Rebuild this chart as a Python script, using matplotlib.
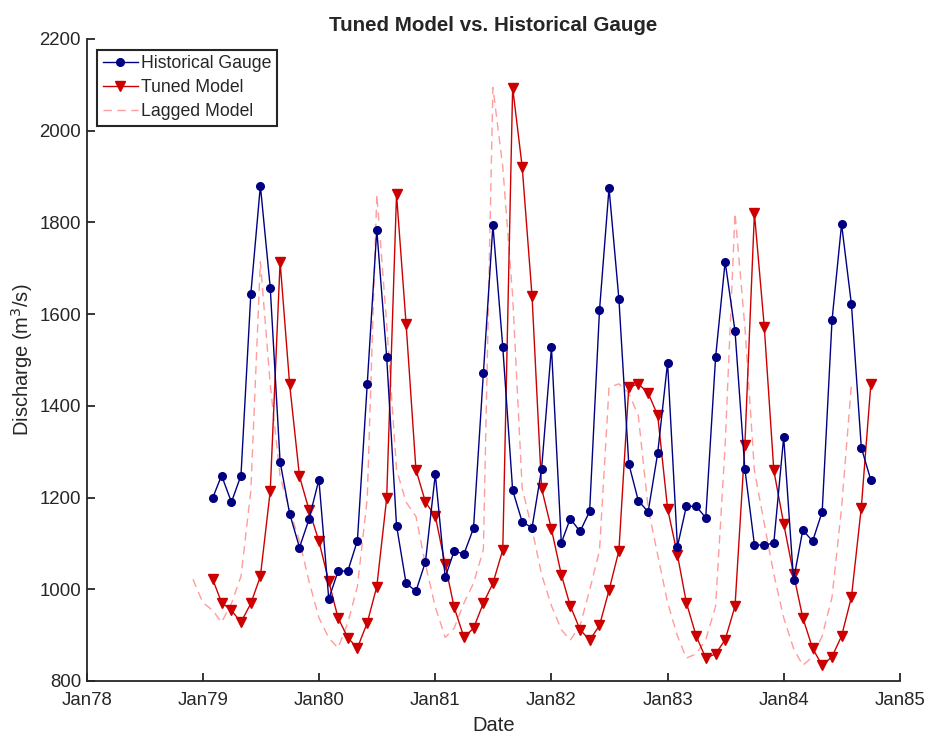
import matplotlib
matplotlib.use('Agg')
import matplotlib.pyplot as plt
import matplotlib.dates as mdates
import numpy as np
from datetime import date

# Monthly dates, Feb 1979 .. Oct 1984
def month_range(y0, m0, n):
	out = []
	y, m = y0, m0
	for i in range(n):
		out.append(date(y, m, 1))
		m += 1
		if m > 12:
			m = 1
			y += 1
	return out

gauge = [
	1199, 1248, 1190, 1248, 1644, 1880, 1658, 1278, 1165, 1091, 1153,
	1239, 979, 1039, 1040, 1106, 1448, 1784, 1507, 1139, 1013, 996, 1060,
	1251, 1026, 1083, 1077, 1133, 1471, 1794, 1528, 1216, 1147, 1134, 1262,
	1528, 1101, 1154, 1126, 1170, 1608, 1875, 1633, 1274, 1193, 1169, 1297,
	1494, 1093, 1181, 1181, 1156, 1506, 1714, 1563, 1262, 1097, 1096, 1101,
	1332, 1020, 1129, 1105, 1169, 1587, 1796, 1621, 1309, 1238,
]

tuned = [
	1022, 971, 954, 928, 969, 1028, 1214, 1714, 1447, 1246, 1173,
	1105, 1017, 938, 894, 872, 927, 1006, 1198, 1861, 1579, 1261, 1190,
	1159, 1054, 961, 895, 915, 970, 1013, 1086, 2094, 1921, 1639, 1220,
	1131, 1032, 964, 912, 889, 921, 998, 1084, 1440, 1448, 1428, 1379,
	1176, 1075, 971, 898, 850, 859, 890, 963, 1315, 1820, 1572, 1259,
	1143, 1033, 938, 871, 834, 853, 898, 983, 1178, 1447,
]

dates = month_range(1979, 2, len(gauge))
# lagged model: tuned values two months earlier (Dec 1978 .. Aug 1984)
lag_dates = month_range(1978, 12, len(tuned))

plt.rcParams['font.family'] = ['Liberation Sans', 'DejaVu Sans']
dark = '#262626'

fig = plt.figure(figsize=(9.27, 7.35), dpi=100)
ax = fig.add_axes([0.0935, 0.0735, 0.8775, 0.8735])

ax.plot(lag_dates, tuned, color='#ff9c9c', linestyle='--', linewidth=1.0,
	dashes=(6, 4), label='Lagged Model', zorder=1)
ax.plot(dates, tuned, color='#cc0000', marker='v', markersize=6.5,
	linewidth=1.0, label='Tuned Model', zorder=2)
ax.plot(dates, gauge, color='#000080', marker='o', markersize=5.5,
	linewidth=1.0, label='Historical Gauge', zorder=3)

ax.set_xlim(date(1978, 1, 1), date(1985, 1, 1))
ax.set_ylim(800, 2200)
ax.set_yticks(np.arange(800, 2201, 200))
ax.xaxis.set_major_locator(mdates.YearLocator())
ax.xaxis.set_major_formatter(mdates.DateFormatter('%b%y'))

for s in ['top', 'right']:
	ax.spines[s].set_visible(False)
for s in ['left', 'bottom']:
	ax.spines[s].set_color(dark)
	ax.spines[s].set_linewidth(1.3)
ax.tick_params(direction='in', length=6, width=1.3, color=dark,
	labelsize=13.4, labelcolor=dark)
ax.tick_params(axis='x', pad=8)
ax.tick_params(axis='y', pad=4)

ax.set_title('Tuned Model vs. Historical Gauge', fontsize=14.8,
	fontweight='bold', color=dark, pad=6)
ax.set_xlabel('Date', fontsize=14.5, color=dark, labelpad=5)
ax.set_ylabel('Discharge (m$^3$/s)', fontsize=14.5, color=dark)
ax.yaxis.set_label_coords(-0.064, 0.5)

h, l = ax.get_legend_handles_labels()
leg = ax.legend(h[::-1], l[::-1], loc='upper left', bbox_to_anchor=(0.013, 0.983),
	fontsize=12.7, frameon=True, fancybox=False, edgecolor=dark,
	framealpha=1, borderpad=0.3, labelspacing=0.4, handlelength=2.0,
	handletextpad=0.2, borderaxespad=0)
leg.get_frame().set_linewidth(1.5)
for t in leg.get_texts():
	t.set_color(dark)

fig.savefig('out.png', dpi=100)
